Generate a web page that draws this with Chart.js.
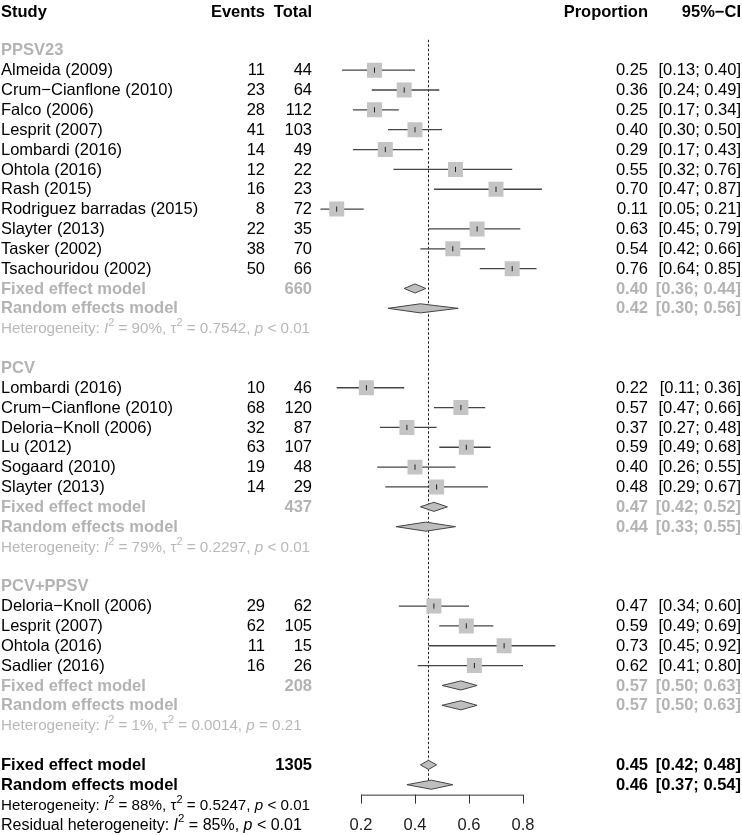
<!DOCTYPE html>
<html>
<head>
<meta charset="utf-8">
<script src="https://cdn.jsdelivr.net/npm/chart.js@4.4.0/dist/chart.umd.min.js"></script>
<style>
  html, body { margin: 0; padding: 0; background: #fff; }
  canvas { display: block; }
</style>
</head>
<body>
<canvas id="forest" width="742" height="835"></canvas>
<script>
// PPSV23 studies
const ppsvStudies = ['Almeida (2009)', 'Crum\u2212Cianflone (2010)', 'Falco (2006)', 'Lesprit (2007)', 'Lombardi (2016)',
  'Ohtola (2016)', 'Rash (2015)', 'Rodriguez barradas (2015)', 'Slayter (2013)', 'Tasker (2002)', 'Tsachouridou (2002)'];
const ppsvEvents = [11, 23, 28, 41, 14, 12, 16, 8, 22, 38, 50];
const ppsvTotals = [44, 64, 112, 103, 49, 22, 23, 72, 35, 70, 66];
const ppsvProp = [0.25, 0.36, 0.25, 0.40, 0.29, 0.55, 0.70, 0.11, 0.63, 0.54, 0.76];
const ppsvLower = [0.13, 0.24, 0.17, 0.30, 0.17, 0.32, 0.47, 0.05, 0.45, 0.42, 0.64];
const ppsvUpper = [0.40, 0.49, 0.34, 0.50, 0.43, 0.76, 0.87, 0.21, 0.79, 0.66, 0.85];

// PCV studies
const pcvStudies = ['Lombardi (2016)', 'Crum\u2212Cianflone (2010)', 'Deloria\u2212Knoll (2006)', 'Lu (2012)', 'Sogaard (2010)', 'Slayter (2013)'];
const pcvEvents = [10, 68, 32, 63, 19, 14];
const pcvTotals = [46, 120, 87, 107, 48, 29];
const pcvProp = [0.22, 0.57, 0.37, 0.59, 0.40, 0.48];
const pcvLower = [0.11, 0.47, 0.27, 0.49, 0.26, 0.29];
const pcvUpper = [0.36, 0.66, 0.48, 0.68, 0.55, 0.67];

// PCV+PPSV studies
const bothStudies = ['Deloria\u2212Knoll (2006)', 'Lesprit (2007)', 'Ohtola (2016)', 'Sadlier (2016)'];
const bothEvents = [29, 62, 11, 16];
const bothTotals = [62, 105, 15, 26];
const bothProp = [0.47, 0.59, 0.73, 0.62];
const bothLower = [0.34, 0.49, 0.45, 0.41];
const bothUpper = [0.60, 0.69, 0.92, 0.80];

// subgroup summaries
const groupNames = ['PPSV23', 'PCV', 'PCV+PPSV'];
const groupTotals = [660, 437, 208];
const fixedEst = [0.40, 0.47, 0.57];
const fixedLower = [0.36, 0.42, 0.50];
const fixedUpper = [0.44, 0.52, 0.63];
const randomEst = [0.42, 0.44, 0.57];
const randomLower = [0.30, 0.33, 0.50];
const randomUpper = [0.56, 0.55, 0.63];
const hetI2 = ['90%', '79%', '1%'];
const hetTau2 = ['0.7542', '0.2297', '0.0014'];
const hetP = ['< 0.01', '< 0.01', '= 0.21'];

// overall
const overallTotal = 1305;
const overallFixed = [0.45, 0.42, 0.48];
const overallRandom = [0.46, 0.37, 0.54];
const overallHet = ['88%', '0.5247', '< 0.01'];
const residualHet = ['85%', '< 0.01'];

const tickValues = [0.2, 0.4, 0.6, 0.8];

const GREY = '#b3b3b3';
const FS = 16.5;
const FONT = '"Liberation Sans", Arial, Helvetica, sans-serif';

// build the row layout
const groupData = [
  [ppsvStudies, ppsvEvents, ppsvTotals, ppsvProp, ppsvLower, ppsvUpper],
  [pcvStudies, pcvEvents, pcvTotals, pcvProp, pcvLower, pcvUpper],
  [bothStudies, bothEvents, bothTotals, bothProp, bothLower, bothUpper]
];
const rows = [];
let r = 2;
groupData.forEach((g, gi) => {
  rows.push({ kind: 'group', row: r++, label: groupNames[gi] });
  g[0].forEach((name, i) => {
    rows.push({ kind: 'study', row: r++, label: name, ev: g[1][i], n: g[2][i], est: g[3][i], lo: g[4][i], hi: g[5][i] });
  });
  rows.push({ kind: 'fixed', row: r++, grey: true, n: groupTotals[gi], est: fixedEst[gi], lo: fixedLower[gi], hi: fixedUpper[gi] });
  rows.push({ kind: 'random', row: r++, grey: true, est: randomEst[gi], lo: randomLower[gi], hi: randomUpper[gi] });
  rows.push({ kind: 'het', row: r++, grey: true, i2: hetI2[gi], tau2: hetTau2[gi], p: hetP[gi] });
  r++;
});
rows.push({ kind: 'fixed', row: r++, n: overallTotal, est: overallFixed[0], lo: overallFixed[1], hi: overallFixed[2] });
rows.push({ kind: 'random', row: r++, est: overallRandom[0], lo: overallRandom[1], hi: overallRandom[2] });
rows.push({ kind: 'het', row: r++, i2: overallHet[0], tau2: overallHet[1], p: overallHet[2] });
rows.push({ kind: 'resid', row: r++, i2: residualHet[0], p: residualHet[1] });
const lastRow = r - 1;

const studyRows = rows.filter(d => d.kind === 'study');
const modelRows = rows.filter(d => d.kind === 'fixed' || d.kind === 'random');

// datasets
const ciData = [];
studyRows.forEach(d => {
  ciData.push({ x: d.lo, y: d.row }, { x: d.hi, y: d.row }, { x: null, y: null });
});

const DH = 0.23; // diamond half height in rows
const diamondSets = modelRows.map(d => ({
  data: [{ x: d.lo, y: d.row }, { x: d.est, y: d.row - DH }, { x: d.hi, y: d.row }, { x: d.est, y: d.row + DH }, { x: d.lo, y: d.row }],
  showLine: true, fill: 'shape', backgroundColor: '#bebebe', borderColor: '#444', borderWidth: 1,
  pointRadius: 0, tension: 0, order: 1
}));

const refRowTop = 1.47;
const refRowBottom = lastRow - 2;

const datasets = [
  ...diamondSets,
  {
    data: studyRows.map(d => ({ x: d.est, y: d.row })),
    pointStyle: 'line', rotation: 90, pointRadius: 2.6, borderColor: '#222', borderWidth: 1, order: 2
  },
  {
    data: studyRows.map(d => ({ x: d.est, y: d.row })),
    pointStyle: 'rect', pointRadius: 10.6, backgroundColor: '#c4c4c4', borderWidth: 0, order: 3
  },
  {
    data: ciData, showLine: true, spanGaps: false, pointRadius: 0,
    borderColor: '#444', borderWidth: 1.3, order: 4
  },
  {
    data: [{ x: overallFixed[0], y: refRowTop }, { x: overallFixed[0], y: refRowBottom }],
    showLine: true, pointRadius: 0, borderColor: '#222', borderWidth: 1, borderDash: [2.5, 2], order: 5
  }
];

function drawRich(ctx, parts, x, y, color, fs) {
  let cx = x;
  parts.forEach(p => {
    const size = p.sup ? fs * 0.72 : fs;
    ctx.font = (p.it ? 'italic ' : '') + size + 'px ' + FONT;
    ctx.fillStyle = color;
    ctx.textAlign = 'left';
    ctx.fillText(p.t, cx, p.sup ? y - fs * 0.45 : y);
    cx += ctx.measureText(p.t).width;
  });
}

const forestText = {
  id: 'forestText',
  afterDraw(chart) {
    const ctx = chart.ctx;
    const ys = chart.scales.y;
    const xs = chart.scales.x;
    const base = row => ys.getPixelForValue(row) + FS * 0.31;
    const setFont = bold => { ctx.font = (bold ? 'bold ' : '') + FS + 'px ' + FONT; };
    const text = (t, x, row, align, color, bold) => {
      setFont(bold);
      ctx.fillStyle = color;
      ctx.textAlign = align;
      ctx.fillText(t, x, base(row));
    };
    ctx.save();
    ctx.textBaseline = 'alphabetic';

    // header
    text('Study', 1, 0.07, 'left', '#000', true);
    text('Events', 265, 0.07, 'right', '#000', true);
    text('Total', 312, 0.07, 'right', '#000', true);
    text('Proportion', 648, 0.07, 'right', '#000', true);
    text('95%\u2212CI', 741, 0.07, 'right', '#000', true);

    const ci = d => '[' + d.lo.toFixed(2) + '; ' + d.hi.toFixed(2) + ']';
    rows.forEach(d => {
      const col = d.grey ? GREY : '#000';
      if (d.kind === 'group') {
        text(d.label, 1, d.row, 'left', GREY, true);
      } else if (d.kind === 'study') {
        text(d.label, 1, d.row, 'left', '#000', false);
        text(String(d.ev), 265, d.row, 'right', '#000', false);
        text(String(d.n), 312, d.row, 'right', '#000', false);
        text(d.est.toFixed(2), 648, d.row, 'right', '#000', false);
        text(ci(d), 741, d.row, 'right', '#000', false);
      } else if (d.kind === 'fixed' || d.kind === 'random') {
        text(d.kind === 'fixed' ? 'Fixed effect model' : 'Random effects model', 1, d.row, 'left', col, true);
        if (d.n) text(String(d.n), 312, d.row, 'right', col, true);
        text(d.est.toFixed(2), 648, d.row, 'right', col, true);
        text(ci(d), 741, d.row, 'right', col, true);
      } else if (d.kind === 'het') {
        drawRich(ctx, [
          { t: 'Heterogeneity: ' }, { t: 'I', it: true }, { t: '2', sup: true }, { t: ' = ' + d.i2 + ', ' },
          { t: '\u03c4' }, { t: '2', sup: true }, { t: ' = ' + d.tau2 + ', ' }, { t: 'p', it: true }, { t: ' ' + d.p }
        ], 1, base(d.row), d.grey ? '#b8b8b8' : '#000', 15.2);
      } else if (d.kind === 'resid') {
        drawRich(ctx, [
          { t: 'Residual heterogeneity: ' }, { t: 'I', it: true }, { t: '2', sup: true }, { t: ' = ' + d.i2 + ', ' },
          { t: 'p', it: true }, { t: ' ' + d.p }
        ], 1, base(d.row), col, 16);
      }
    });

    // x axis (R style, only across the tick range)
    const axisY = ys.getPixelForValue(lastRow - 1.5);
    const x0 = xs.getPixelForValue(tickValues[0]);
    const x1 = xs.getPixelForValue(tickValues[tickValues.length - 1]);
    ctx.strokeStyle = '#333';
    ctx.lineWidth = 1;
    ctx.beginPath();
    ctx.moveTo(x0, axisY + 0.5);
    ctx.lineTo(x1, axisY + 0.5);
    tickValues.forEach(v => {
      const tx = Math.round(xs.getPixelForValue(v)) + 0.5;
      ctx.moveTo(tx, axisY);
      ctx.lineTo(tx, axisY + 9);
    });
    ctx.stroke();
    tickValues.forEach(v => {
      text(v.toFixed(1), xs.getPixelForValue(v), lastRow, 'center', '#222', false);
    });
    ctx.restore();
  }
};

new Chart(document.getElementById('forest').getContext('2d'), {
  type: 'scatter',
  data: { datasets },
  options: {
    responsive: false,
    animation: false,
    devicePixelRatio: 1,
    events: [],
    layout: { padding: { left: 307, right: 165, top: 5.7, bottom: 9.3 } },
    scales: {
      x: { type: 'linear', min: 0, max: 1, display: false },
      y: { type: 'linear', min: 0, max: 41, reverse: true, display: false }
    },
    plugins: { legend: { display: false }, tooltip: { enabled: false } }
  },
  plugins: [forestText]
});
</script>
</body>
</html>
